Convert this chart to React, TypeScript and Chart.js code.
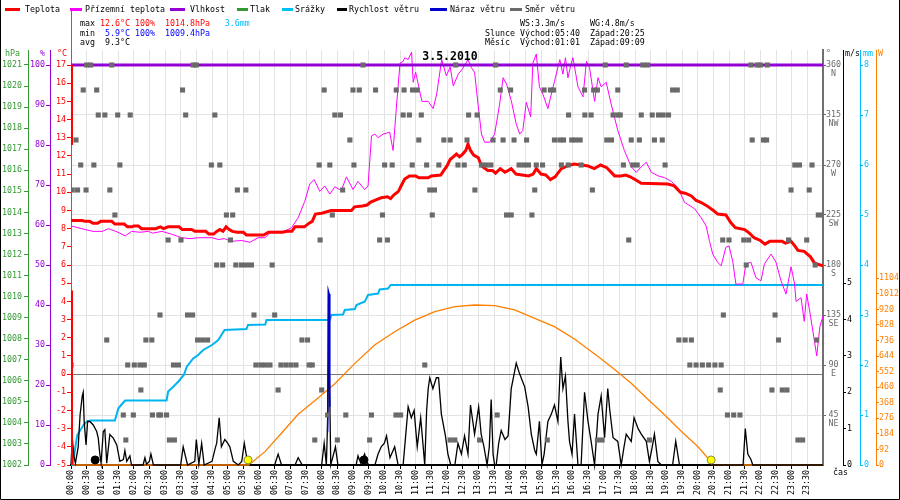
import React, { useEffect, useRef } from 'react';
import { Chart, registerables } from 'chart.js';

Chart.register(...registerables);

const FONT = '"DejaVu Sans Mono", "Liberation Mono", monospace';
const FS = 8.3;

// ---------------- axis tick labels ----------------
const timeLabels = [
  '00:00', '00:30', '01:00', '01:30', '02:00', '02:30', '03:00', '03:30',
  '04:00', '04:30', '05:00', '05:30', '06:00', '06:30', '07:00', '07:30',
  '08:00', '08:30', '09:00', '09:30', '10:00', '10:30', '11:00', '11:30',
  '12:00', '12:30', '13:00', '13:30', '14:00', '14:30', '15:00', '15:30',
  '16:00', '16:30', '17:00', '17:30', '18:00', '18:30', '19:00', '19:30',
  '20:00', '20:30', '21:00', '21:30', '22:00', '22:30', '23:00', '23:30',
];
const temperatureTicks = [-5, -4, -3, -2, -1, 0, 1, 2, 3, 4, 5, 6, 7, 8, 9, 10, 11, 12, 13, 14, 15, 16, 17];
const humidityTicks = [0, 10, 20, 30, 40, 50, 60, 70, 80, 90, 100];
const pressureTicks = [1002, 1003, 1004, 1005, 1006, 1007, 1008, 1009, 1010, 1011, 1012, 1013, 1014, 1015, 1016, 1017, 1018, 1019, 1020, 1021];
const directionTicks = [45, 90, 135, 180, 225, 270, 315, 360];
const directionNames = ['NE', 'E', 'SE', 'S', 'SW', 'W', 'NW', 'N'];
const windTicks = [0, 1, 2, 3, 4, 5];
const rainTicks = [0, 1, 2, 3, 4, 5, 6, 7, 8];
const radiationTicks = [0, 92, 184, 276, 368, 460, 552, 644, 736, 828, 920, 1012, 1104];

// ---------------- legend / header texts ----------------
const seriesNames = ['Teplota', 'Přízemní teplota', 'Vlhkost', 'Tlak', 'Srážky', 'Rychlost větru', 'Náraz větru', 'Směr větru'];
const seriesColors = ['#ff0000', '#ff00ff', '#9400d3', '#339933', '#00bfff', '#000000', '#0000cc', '#6a6a6a'];
const titleText = '3.5.2010';
const maxValues = ['12.6°C', '100%', '1014.8hPa', '3.6mm'];
const minValues = ['5.9°C', '100%', '1009.4hPa'];
const avgValues = ['9.3°C'];
const windSummary = ['WS:3.3m/s', 'WG:4.8m/s'];
const sunTimes = ['Slunce', 'Východ:05:40', 'Západ:20:25'];
const moonTimes = ['Měsíc', 'Východ:01:01', 'Západ:09:09'];

// ---------------- series (hour, value) ----------------
const temperature = [
  [0, 8.45], [0.35, 8.45], [0.45, 8.4], [0.6, 8.4], [0.7, 8.3], [0.85, 8.3], [0.95, 8.4], [1.3, 8.4],
  [1.4, 8.25], [1.7, 8.25], [1.8, 8.1], [1.95, 8.1], [2.0, 8.15], [2.15, 8.15], [2.25, 8.0], [2.7, 8.0],
  [2.85, 8.1], [2.95, 8.0], [3.1, 8.1], [3.45, 8.1], [3.55, 7.95], [3.85, 7.95], [3.95, 7.85], [4.3, 7.85],
  [4.4, 7.7], [4.55, 7.7], [4.65, 7.85], [4.75, 7.95], [4.85, 7.85], [4.95, 8.1], [5.05, 7.95], [5.15, 7.85],
  [5.3, 7.8], [5.5, 7.8], [5.6, 7.65], [6.15, 7.65], [6.3, 7.8], [6.75, 7.8], [6.9, 7.85], [7.05, 7.85],
  [7.15, 8.1], [7.45, 8.1], [7.6, 8.3], [7.7, 8.4], [7.8, 8.8], [8.0, 8.85], [8.3, 9.0], [8.95, 9.0],
  [9.05, 9.2], [9.3, 9.25], [9.45, 9.3], [9.55, 9.45], [9.75, 9.6], [9.9, 9.7], [10.1, 9.75], [10.2, 9.65],
  [10.3, 9.85], [10.45, 10.05], [10.55, 10.4], [10.65, 10.73], [10.8, 10.9], [11.0, 10.9], [11.1, 10.8], [11.4, 10.8],
  [11.5, 10.9], [11.8, 10.95], [11.9, 11.2], [12.0, 11.45], [12.1, 11.8], [12.2, 11.95], [12.3, 12.1], [12.4, 11.95],
  [12.5, 12.1], [12.6, 12.3], [12.67, 12.65], [12.75, 12.3], [12.85, 12.05], [13.0, 11.9], [13.1, 11.45], [13.3, 11.2],
  [13.45, 11.2], [13.55, 11.05], [13.7, 11.3], [13.85, 11.1], [14.05, 11.3], [14.2, 11.0], [14.6, 10.9], [14.75, 11.0],
  [14.85, 11.3], [15.0, 11.0], [15.15, 10.95], [15.3, 10.7], [15.45, 10.85], [15.65, 11.3], [15.85, 11.45], [16.05, 11.55],
  [16.3, 11.5], [16.5, 11.45], [16.7, 11.3], [16.9, 11.5], [17.1, 11.35], [17.35, 10.9], [17.55, 10.9], [17.7, 10.95],
  [17.85, 10.85], [18.0, 10.7], [18.2, 10.5], [19.05, 10.45], [19.25, 10.35], [19.45, 10.0], [19.6, 9.95], [19.8, 9.8],
  [19.95, 9.55], [20.1, 9.45], [20.3, 9.25], [20.5, 9.0], [20.64, 8.8], [20.9, 8.75], [21.05, 8.35], [21.2, 8.05],
  [21.5, 7.95], [21.65, 7.75], [21.8, 7.5], [22.0, 7.35], [22.15, 7.15], [22.3, 7.3], [22.7, 7.3], [22.8, 7.2],
  [22.98, 7.3], [23.1, 7.05], [23.2, 6.8], [23.4, 6.75], [23.5, 6.6], [23.6, 6.45], [23.73, 6.1], [24.0, 5.95],
];

const groundTemperature = [
  [0.0, 8.15], [0.45, 7.95], [0.7, 7.85], [1.0, 7.85], [1.2, 8.0], [1.5, 7.8], [1.73, 7.6], [1.93, 7.85],
  [2.2, 7.8], [2.47, 7.85], [2.6, 7.75], [2.9, 7.85], [3.2, 7.7], [3.53, 7.5], [3.8, 7.45], [4.06, 7.5],
  [4.5, 7.5], [4.7, 7.4], [4.9, 7.45], [5.12, 7.3], [5.44, 7.35], [5.71, 7.25], [5.97, 7.5], [6.19, 7.5],
  [6.4, 7.85], [6.8, 7.85], [7.04, 8.05], [7.25, 8.6], [7.46, 9.5], [7.62, 10.45], [7.76, 10.7], [7.94, 10.05],
  [8.1, 10.35], [8.26, 9.9], [8.42, 10.3], [8.63, 10.1], [8.79, 10.85], [9.0, 10.15], [9.16, 10.6], [9.37, 10.15],
  [9.48, 10.35], [9.59, 13.1], [9.7, 13.2], [9.8, 13.0], [9.96, 13.2], [10.17, 13.3], [10.28, 12.3], [10.39, 14.8],
  [10.5, 17.1], [10.6, 17.2], [10.65, 17.4], [10.76, 17.3], [10.87, 17.7], [10.92, 16.05], [11.0, 16.6], [11.2, 15.0],
  [11.4, 15.0], [11.56, 14.6], [11.67, 15.4], [11.83, 17.3], [11.98, 16.4], [12.1, 16.9], [12.2, 15.85], [12.36, 16.5],
  [12.5, 16.8], [12.67, 17.3], [12.78, 16.85], [12.88, 16.6], [12.99, 14.85], [13.1, 13.2], [13.2, 12.75], [13.36, 12.75],
  [13.52, 13.2], [13.68, 14.85], [13.79, 16.3], [13.9, 15.95], [14.05, 15.05], [14.21, 13.75], [14.32, 13.2], [14.42, 13.4],
  [14.53, 14.95], [14.67, 14.15], [14.74, 17.1], [14.85, 17.6], [14.95, 15.8], [15.06, 15.4], [15.22, 14.6], [15.33, 15.4],
  [15.43, 16.1], [15.6, 17.3], [15.7, 16.5], [15.78, 17.4], [15.86, 16.3], [15.95, 17.0], [16.02, 17.4], [16.18, 15.8],
  [16.34, 15.25], [16.45, 17.2], [16.55, 16.85], [16.71, 15.0], [16.82, 16.3], [16.92, 15.8], [17.08, 16.05], [17.24, 14.85],
  [17.45, 13.4], [17.66, 12.3], [17.88, 11.4], [18.04, 11.1], [18.2, 11.4], [18.36, 11.65], [18.52, 11.1], [18.74, 10.9],
  [18.95, 10.8], [19.16, 10.6], [19.37, 10.25], [19.58, 9.45], [19.9, 9.1], [20.11, 8.6], [20.27, 8.15], [20.38, 7.3],
  [20.48, 6.6], [20.64, 6.14], [20.75, 5.96], [20.9, 6.97], [21.0, 7.05], [21.12, 6.2], [21.22, 4.95], [21.44, 4.95],
  [21.54, 6.05], [21.7, 6.15], [21.86, 5.3], [22.02, 5.13], [22.13, 6.05], [22.34, 6.6], [22.5, 6.15], [22.66, 5.13],
  [22.82, 4.4], [22.98, 5.9], [23.09, 5.0], [23.14, 4.0], [23.3, 4.2], [23.4, 2.9], [23.48, 4.4], [23.61, 3.1],
  [23.71, 2.0], [23.8, 1.0], [23.9, 2.6], [24.0, 3.2],
];

const humidity = [[0, 100], [24, 100]];

const pressure: number[][] = [];

const precipitation = [
  [0, 0], [0.05, 0], [0.2, 0.6], [0.4, 0.8], [0.5, 0.87], [0.6, 0.89], [1.4, 0.89], [1.51, 1.13],
  [1.6, 1.2], [1.67, 1.25], [1.73, 1.29], [3.05, 1.29], [3.1, 1.47], [3.27, 1.57], [3.43, 1.67], [3.6, 1.8],
  [3.7, 1.97], [3.9, 2.13], [4.06, 2.2], [4.22, 2.3], [4.5, 2.4], [4.7, 2.5], [4.9, 2.7], [5.6, 2.72],
  [5.65, 2.8], [6.2, 2.81], [6.24, 2.9], [8.26, 2.9], [8.31, 3.0], [8.68, 3.01], [8.74, 3.1], [9.06, 3.12],
  [9.11, 3.2], [9.38, 3.27], [9.48, 3.4], [9.8, 3.43], [9.85, 3.51], [10.12, 3.53], [10.2, 3.6], [24, 3.6],
];

const windSpeed = [
  [0, 0], [0.04, 0.74], [0.1, 0.2], [0.14, 0.05], [0.23, 0.5], [0.29, 1.38], [0.36, 1.9], [0.39, 2.0],
  [0.42, 1.2], [0.48, 0.55], [0.53, 1.2], [0.61, 1.19], [0.71, 1.1], [0.82, 0.92], [0.87, 0.74], [0.92, 0.3],
  [0.96, 0.05], [1.03, 0.92], [1.08, 0.97], [1.14, 0.05], [1.24, 0.84], [1.35, 0.74], [1.46, 0.55], [1.56, 0.1],
  [1.67, 0.15], [1.72, 0.4], [1.78, 0.1], [1.88, 0.25], [1.93, 0], [2.3, 0], [2.36, 0.2], [2.41, 0.02],
  [2.5, 0.1], [2.55, 0.3], [2.63, 0], [3.5, 0], [3.58, 0.5], [3.72, 0], [3.95, 0.1], [4.0, 0.7],
  [4.08, 0.02], [4.17, 0.6], [4.25, 0], [4.5, 0.1], [4.6, 0.45], [4.65, 0.6], [4.73, 1.3], [4.8, 0.5],
  [4.91, 0.7], [5.0, 0.6], [5.07, 0.5], [5.18, 0.1], [5.34, 0], [5.45, 0.1], [5.53, 0.6], [5.63, 0.1],
  [5.76, 0], [6.5, 0], [6.61, 0.3], [6.72, 0], [7.15, 0], [7.25, 0.2], [7.38, 0], [8.0, 0],
  [8.08, 0.6], [8.15, 0], [8.2, 1.5], [8.23, 3.3], [8.26, 1.8], [8.29, 0], [8.44, 0.5], [8.52, 0],
  [9.1, 0], [9.16, 0.25], [9.25, 0.05], [9.37, 0.3], [9.45, 0.05], [9.53, 0], [9.7, 0], [9.8, 0.3],
  [9.9, 0.5], [10.0, 0.6], [10.07, 0.8], [10.18, 0.2], [10.33, 0.5], [10.44, 0], [10.6, 0], [10.7, 1.0],
  [10.76, 1.6], [10.86, 1.3], [10.95, 1.5], [11.05, 0.5], [11.16, 1.3], [11.29, 0], [11.35, 1.5], [11.4, 2.1],
  [11.45, 2.4], [11.55, 2.1], [11.66, 2.4], [11.73, 2.4], [11.82, 1.4], [11.95, 0.8], [12.03, 0.3], [12.12, 0],
  [12.25, 0], [12.35, 0.6], [12.46, 0.3], [12.56, 0.8], [12.67, 0.3], [12.75, 1.65], [12.88, 0.85], [13.01, 1.6],
  [13.09, 0.85], [13.18, 0.5], [13.28, 0], [13.35, 0.5], [13.41, 1.8], [13.47, 0.3], [13.52, 0], [13.57, 0],
  [13.65, 0.6], [13.73, 0.95], [13.85, 0.7], [13.95, 0.8], [14.05, 2.1], [14.21, 2.8], [14.32, 2.5], [14.48, 2.15],
  [14.59, 1.6], [14.69, 0.85], [14.8, 0.4], [14.85, 0.3], [14.95, 1.2], [15.03, 0], [15.1, 0.3], [15.22, 1.2],
  [15.33, 1.4], [15.43, 1.65], [15.54, 1.2], [15.63, 2.97], [15.7, 2.1], [15.78, 2.45], [15.86, 1.2], [15.91, 0.65],
  [15.99, 0.3], [16.07, 1.4], [16.18, 0], [16.28, 0], [16.39, 2.0], [16.5, 1.2], [16.6, 0.65], [16.71, 0],
  [16.82, 1.4], [16.92, 1.9], [17.03, 0.75], [17.13, 2.1], [17.19, 1.55], [17.3, 0.75], [17.45, 0.65], [17.56, 0],
  [17.65, 0.5], [17.72, 0.85], [17.88, 0.65], [17.97, 1.3], [18.1, 1.0], [18.2, 0.85], [18.36, 0.65], [18.46, 0.1],
  [18.55, 0.5], [18.62, 0.85], [18.73, 0.1], [18.84, 0], [19.2, 0], [19.3, 0.65], [19.42, 0], [21.45, 0],
  [21.52, 1.0], [21.6, 0.3], [21.7, 0.15], [21.76, 0], [24, 0],
];

const windGust = [[8.19, 0.9], [8.21, 4.8], [8.24, 4.7], [8.26, 1.6]];

const windDirection = [
  [0.0, 90], [0.04, 247.5], [0.16, 292.5], [0.21, 247.5], [0.31, 270], [0.39, 337.5], [0.48, 247.5], [0.5, 360],
  [0.63, 360], [0.73, 270], [0.82, 337.5], [0.87, 315], [1.08, 315], [1.14, 112.5], [1.24, 247.5], [1.3, 360],
  [1.4, 225], [1.49, 315], [1.56, 270], [1.67, 45], [1.75, 22.5], [1.81, 90], [1.89, 315], [1.99, 45],
  [2.02, 90], [2.2, 90], [2.23, 67.5], [2.34, 90], [2.39, 112.5], [2.58, 112.5], [2.6, 45], [2.8, 45],
  [2.84, 135], [2.86, 45], [3.05, 45], [3.1, 202.5], [3.14, 22.5], [3.27, 90], [3.3, 22.5], [3.43, 90],
  [3.51, 202.5], [3.56, 337.5], [3.66, 315], [3.72, 135], [3.88, 135], [3.9, 360], [4.0, 360], [4.04, 112.5],
  [4.2, 112.5], [4.36, 112.5], [4.48, 270], [4.59, 315], [4.65, 180], [4.75, 270], [4.84, 180], [4.96, 225],
  [5.09, 202.5], [5.16, 225], [5.26, 180], [5.31, 247.5], [5.44, 180], [5.58, 247.5], [5.6, 180], [5.76, 180],
  [5.84, 135], [5.9, 90], [6.06, 90], [6.2, 90], [6.35, 90], [6.42, 180], [6.5, 135], [6.61, 67.5],
  [6.7, 90], [6.86, 90], [7.02, 90], [7.18, 90], [7.37, 112.5], [7.55, 112.5], [7.6, 90], [7.7, 90],
  [7.78, 22.5], [7.92, 270], [7.95, 202.5], [8.0, 67.5], [8.08, 337.5], [8.19, 45], [8.26, 270], [8.34, 225],
  [8.42, 315], [8.5, 22.5], [8.6, 315], [8.67, 247.5], [8.77, 45], [8.9, 292.5], [9.0, 337.5], [9.03, 270],
  [9.2, 337.5], [9.32, 360], [9.53, 22.5], [9.59, 45], [9.72, 337.5], [9.85, 202.5], [9.94, 225], [10.01, 270],
  [10.1, 202.5], [10.25, 270], [10.37, 45], [10.38, 337.5], [10.52, 45], [10.6, 315], [10.63, 337.5], [10.8, 315],
  [10.89, 270], [10.9, 337.5], [11.05, 337.5], [11.1, 292.5], [11.18, 315], [11.29, 90], [11.35, 270], [11.45, 247.5],
  [11.53, 225], [11.6, 247.5], [11.74, 270], [11.9, 292.5], [12.1, 292.5], [12.1, 22.5], [12.25, 22.5], [12.28, 360],
  [12.35, 270], [12.55, 270], [12.64, 292.5], [12.69, 315], [12.89, 247.5], [12.96, 315], [13.04, 22.5], [13.1, 270],
  [13.25, 270], [13.4, 270], [13.47, 292.5], [13.55, 360], [13.6, 45], [13.7, 337.5], [13.79, 292.5], [13.9, 225],
  [14.03, 337.5], [14.05, 225], [14.14, 292.5], [14.3, 270], [14.45, 270], [14.54, 292.5], [14.6, 270], [14.71, 225],
  [14.8, 247.5], [14.85, 270], [15.05, 270], [15.1, 337.5], [15.2, 22.5], [15.3, 337.5], [15.4, 337.5], [15.43, 292.5],
  [15.6, 292.5], [15.65, 270], [15.72, 292.5], [15.88, 315], [15.87, 270], [15.98, 292.5], [16.1, 292.5], [16.25, 292.5],
  [16.28, 270], [16.39, 337.5], [16.4, 315], [16.6, 315], [16.64, 247.5], [16.68, 337.5], [16.8, 337.5], [16.8, 22.5],
  [16.95, 22.5], [17.05, 360], [17.1, 292.5], [17.25, 292.5], [17.3, 315], [17.45, 315], [17.45, 337.5], [17.53, 315],
  [17.63, 270], [17.72, 360], [17.8, 202.5], [17.88, 292.5], [17.93, 270], [18.07, 270], [18.14, 292.5], [18.2, 315],
  [18.25, 360], [18.4, 360], [18.46, 22.5], [18.55, 315], [18.62, 292.5], [18.75, 315], [18.87, 292.5], [18.9, 315],
  [18.96, 270], [19.07, 315], [19.2, 337.5], [19.35, 337.5], [19.4, 112.5], [19.6, 112.5], [19.75, 90], [19.8, 112.5],
  [19.95, 90], [20.15, 90], [20.35, 90], [20.55, 90], [20.72, 67.5], [20.75, 90], [20.8, 202.5], [20.82, 135],
  [20.95, 45], [21.0, 202.5], [21.15, 45], [21.35, 45], [21.47, 202.5], [21.55, 180], [21.63, 202.5], [21.7, 360],
  [21.74, 292.5], [21.9, 360], [22.0, 360], [22.1, 292.5], [22.2, 292.5], [22.22, 360], [22.37, 67.5], [22.47, 135],
  [22.58, 112.5], [22.7, 67.5], [22.85, 67.5], [22.9, 202.5], [22.98, 247.5], [23.1, 270], [23.2, 22.5], [23.25, 270],
  [23.35, 22.5], [23.48, 202.5], [23.56, 247.5], [23.65, 270], [23.75, 180], [23.8, 112.5], [23.85, 225], [24.0, 225],
];

const solarRadiation = [
  [0, 0], [5.67, 0], [6.19, 79], [6.7, 185], [7.25, 300], [7.78, 380], [8.1, 430], [8.42, 480],
  [9.06, 601], [9.69, 710], [10.33, 788], [10.97, 857], [11.61, 907], [12.25, 936], [12.88, 946], [13.52, 942],
  [14.16, 917], [14.8, 867], [15.43, 818], [16.07, 745], [16.82, 641], [17.35, 565], [17.88, 483], [18.4, 390],
  [18.95, 296], [19.5, 195], [20.01, 108], [20.42, 20], [20.45, 0], [24, 0],
];

const sunEvents = [5.65, 20.43];
const moonEvents = [0.77, 9.35];
const edgeTemperatureSegments = [[12.6, 17], [-5, 4.6]];

// ---------------- helpers ----------------
const toXY = (arr: number[][]) => arr.map(([x, y]) => ({ x, y }));
const fixedTicks = (values: number[]) => (scale: any) => {
  scale.ticks = values.map((v) => ({ value: v }));
};
const font = { family: FONT, size: FS, lineHeight: 1.1 };

const decorPlugin = {
  id: 'decor',
  afterDraw(chart: any) {
    const ctx = chart.ctx;
    const { left, top } = chart.chartArea;
    ctx.save();
    ctx.strokeStyle = '#339933';
    ctx.lineWidth = 1;
    ctx.beginPath();
    ctx.moveTo(left + 0.5, 8);
    ctx.lineTo(left + 0.5, top);
    ctx.stroke();
    const yT = chart.scales.yTemp;
    ctx.strokeStyle = '#ff0000';
    ctx.lineWidth = 2;
    edgeTemperatureSegments.forEach(([a, b]) => {
      ctx.beginPath();
      ctx.moveTo(left + 1, yT.getPixelForValue(a));
      ctx.lineTo(left + 1, yT.getPixelForValue(b));
      ctx.stroke();
    });

    ctx.font = `${FS}px ${FONT}`;
    ctx.textBaseline = 'middle';
    ctx.textAlign = 'left';
    const adv = ctx.measureText('0').width;

    const swatchStart = [5, 70, 170, 237, 282, 337, 430, 510];
    const swatchEnd = [20, 82, 185, 248, 293, 347, 447, 522];
    const textStart = [25, 85, 190, 250, 295, 349, 450, 525];
    seriesNames.forEach((name, i) => {
      ctx.fillStyle = seriesColors[i];
      ctx.fillRect(swatchStart[i], 8, swatchEnd[i] - swatchStart[i], 3);
      ctx.fillStyle = '#000';
      ctx.fillText(name, textStart[i], 9.5);
    });

    const put = (txt: string, col: number, row: number, color: string, base = 80) => {
      ctx.fillStyle = color;
      ctx.fillText(txt, base + col * adv, [24, 34, 43][row]);
    };
    put('max', 0, 0, '#000');
    put(maxValues[0], 4, 0, '#ff0000');
    put(maxValues[1], 11, 0, '#ff0000');
    put(maxValues[2], 17, 0, '#ff0000');
    put(maxValues[3], 29, 0, '#00bfff');
    put('min', 0, 1, '#000');
    put(minValues[0], 5, 1, '#0000ff');
    put(minValues[1], 11, 1, '#0000ff');
    put(minValues[2], 17, 1, '#0000ff');
    put('avg', 0, 2, '#000');
    put(avgValues[0], 5, 2, '#000');
    put(windSummary[0], 7, 0, '#000', 485);
    put(windSummary[1], 21, 0, '#000', 485);
    put(sunTimes[0], 0, 1, '#000', 485);
    put(sunTimes[1], 7, 1, '#000', 485);
    put(sunTimes[2], 21, 1, '#000', 485);
    put(moonTimes[0], 0, 2, '#000', 485);
    put(moonTimes[1], 7, 2, '#000', 485);
    put(moonTimes[2], 21, 2, '#000', 485);

    const unit = (txt: string, x: number, color: string) => {
      ctx.fillStyle = color;
      ctx.fillText(txt, x, 54);
    };
    unit('hPa', 5, '#339933');
    unit('%', 40, '#9400d3');
    unit('°C', 57, '#ff0000');
    unit('°', 826, '#6a6a6a');
    unit('m/s', 845, '#000');
    unit('mm', 863, '#00bfff');
    unit('W', 878, '#ff8000');
    ctx.fillStyle = '#000';
    ctx.fillText('čas', 833, 473);

    ctx.font = `bold 11.5px ${FONT}`;
    ctx.textAlign = 'center';
    ctx.fillStyle = '#000';
    ctx.fillText(titleText, 450, 57);

    ctx.strokeStyle = '#000';
    ctx.lineWidth = 1;
    ctx.beginPath();
    ctx.moveTo(0.5, 0);
    ctx.lineTo(0.5, 499.5);
    ctx.lineTo(899.5, 499.5);
    ctx.lineTo(899.5, 0);
    ctx.stroke();
    ctx.restore();
  },
};

export default function App() {
  const ref = useRef<HTMLCanvasElement | null>(null);

  useEffect(() => {
    if (!ref.current) return;
    Chart.defaults.font.family = FONT;
    Chart.defaults.font.size = FS;

    const chart = new Chart(ref.current, {
      type: 'line',
      data: {
        datasets: [
          {
            label: 'Směr větru', data: toXY(windDirection), yAxisID: 'yDir', showLine: false,
            pointStyle: 'rect', pointRadius: 3.6, pointBackgroundColor: '#6a6a6a', pointBorderWidth: 0, order: 0,
          },
          {
            label: 'sun', data: sunEvents.map((x) => ({ x, y: 30 })), yAxisID: 'yRad', showLine: false,
            pointRadius: 4, pointBackgroundColor: '#ffff00', pointBorderColor: '#8a8a40', pointBorderWidth: 1, order: 1, clip: false,
          },
          {
            label: 'moon', data: moonEvents.map((x) => ({ x, y: 30 })), yAxisID: 'yRad', showLine: false,
            pointRadius: 4, pointBackgroundColor: '#000', pointBorderColor: '#000', pointBorderWidth: 1, order: 1, clip: false,
          },
          {
            label: 'Vlhkost', data: toXY(humidity), yAxisID: 'yHum', borderColor: '#9400d3',
            borderWidth: 3, pointRadius: 0, order: 2,
          },
          {
            label: 'Teplota', data: toXY(temperature), yAxisID: 'yTemp', borderColor: '#ff0000',
            borderWidth: 3, pointRadius: 0, order: 3,
          },
          {
            label: 'Přízemní teplota', data: toXY(groundTemperature), yAxisID: 'yTemp', borderColor: '#ff00ff',
            borderWidth: 1, pointRadius: 0, order: 4, clip: false,
          },
          {
            label: 'Tlak', data: toXY(pressure), yAxisID: 'yPress', borderColor: '#339933',
            borderWidth: 1, pointRadius: 0, order: 5,
          },
          {
            label: 'Náraz větru', data: toXY(windGust), yAxisID: 'yWind', borderColor: '#0000cc',
            borderWidth: 1.5, pointRadius: 0, order: 5,
          },
          {
            label: 'Rychlost větru', data: toXY(windSpeed), yAxisID: 'yWind', borderColor: '#000',
            borderWidth: 1.3, pointRadius: 0, order: 6, clip: false,
          },
          {
            label: 'Srážky', data: toXY(precipitation), yAxisID: 'yRain', borderColor: '#00b4f0',
            borderWidth: 2, pointRadius: 0, order: 7, clip: false,
          },
          {
            label: 'Sluneční záření', data: toXY(solarRadiation), yAxisID: 'yRad', borderColor: '#ff8000',
            borderWidth: 1.3, pointRadius: 0, order: 8, clip: false,
          },
        ],
      },
      options: {
        animation: false,
        responsive: false,
        devicePixelRatio: 1,
        events: [],
        layout: { padding: { top: 50, left: 0, right: 0, bottom: 0 } },
        plugins: { legend: { display: false }, tooltip: { enabled: false } },
        scales: {
          x: {
            type: 'linear', min: 0, max: 24, offset: false,
            afterBuildTicks: (s: any) => { s.ticks = timeLabels.map((_, i) => ({ value: i * 0.5 })); },
            afterFit: (s: any) => { s.height = 35; },
            ticks: {
              autoSkip: false, minRotation: 90, maxRotation: 90, padding: 1, color: '#000', font,
              callback: (_v: any, i: number) => timeLabels[i],
            },
            grid: { color: '#e3e3e3', lineWidth: 1, tickLength: 4, tickColor: '#000' },
            border: { color: '#000', width: 2 },
          },
          yTemp: {
            type: 'linear', position: 'left', min: -5, max: 17.825,
            afterBuildTicks: fixedTicks(temperatureTicks),
            afterFit: (s: any) => { s.width = 21; },
            ticks: { color: '#ff0000', font, padding: 1, callback: (v: any) => String(v) },
            grid: {
              drawOnChartArea: true, tickLength: 4, tickColor: '#ff0000', lineWidth: 1,
              color: (c: any) => (c.tick && c.tick.value === 0 ? '#777777' : 'rgba(0,0,0,0)'),
            },
            border: { color: '#339933', width: 1 },
          },
          yHum: {
            type: 'linear', position: 'left', min: 0, max: 103.75,
            afterBuildTicks: fixedTicks(humidityTicks),
            afterFit: (s: any) => { s.width = 22; },
            ticks: { color: '#9400d3', font, padding: 1, callback: (v: any) => String(v) },
            grid: { drawOnChartArea: false, tickLength: 4, tickColor: '#9400d3' },
            border: { color: '#9400d3', width: 1 },
          },
          yPress: {
            type: 'linear', position: 'left', min: 1002, max: 1021.7125,
            afterBuildTicks: fixedTicks(pressureTicks),
            afterFit: (s: any) => { s.width = 28; },
            ticks: { color: '#339933', font, padding: 2, callback: (v: any) => String(v) },
            grid: { drawOnChartArea: false, tickLength: 4, tickColor: '#339933' },
            border: { color: '#339933', width: 1 },
          },
          yDir: {
            type: 'linear', position: 'right', min: 0, max: 373.5,
            afterBuildTicks: fixedTicks(directionTicks),
            afterFit: (s: any) => { s.width = 20; },
            ticks: {
              color: '#6a6a6a', font, padding: 0, crossAlign: 'center', labelOffset: 4.5,
              callback: (v: any, i: number) => [String(v), directionNames[i]],
            },
            grid: { drawOnChartArea: true, color: '#e3e3e3', tickLength: 3, tickColor: '#6a6a6a' },
            border: { color: '#707070', width: 2 },
          },
          yWind: {
            type: 'linear', position: 'right', min: 0, max: 11.4125,
            afterBuildTicks: fixedTicks(windTicks),
            afterFit: (s: any) => { s.width = 17; },
            ticks: { color: '#000', font, padding: 1, callback: (v: any) => String(v) },
            grid: { drawOnChartArea: false, tickLength: 3, tickColor: '#000' },
            border: { color: '#000', width: 1 },
          },
          yRain: {
            type: 'linear', position: 'right', min: 0, max: 8.3,
            afterBuildTicks: fixedTicks(rainTicks),
            afterFit: (s: any) => { s.width = 16; },
            ticks: { color: '#00bfff', font, padding: 1, callback: (v: any) => String(v) },
            grid: { drawOnChartArea: false, tickLength: 3, tickColor: '#00bfff' },
            border: { color: '#00bfff', width: 1 },
          },
          yRad: {
            type: 'linear', position: 'right', min: 0, max: 2454,
            afterBuildTicks: fixedTicks(radiationTicks),
            afterFit: (s: any) => { s.width = 24; },
            ticks: { color: '#ff8000', font, padding: 0, callback: (v: any) => String(v) },
            grid: { drawOnChartArea: false, tickLength: 3, tickColor: '#ff8000' },
            border: { color: '#ff8000', width: 1 },
          },
        },
      } as any,
      plugins: [decorPlugin],
    });
    return () => chart.destroy();
  }, []);

  return (
    <div style={{ position: 'absolute', left: 0, top: 0, width: 900, height: 500, background: '#fff' }}>
      <canvas ref={ref} width={900} height={500} style={{ display: 'block' }} />
    </div>
  );
}
